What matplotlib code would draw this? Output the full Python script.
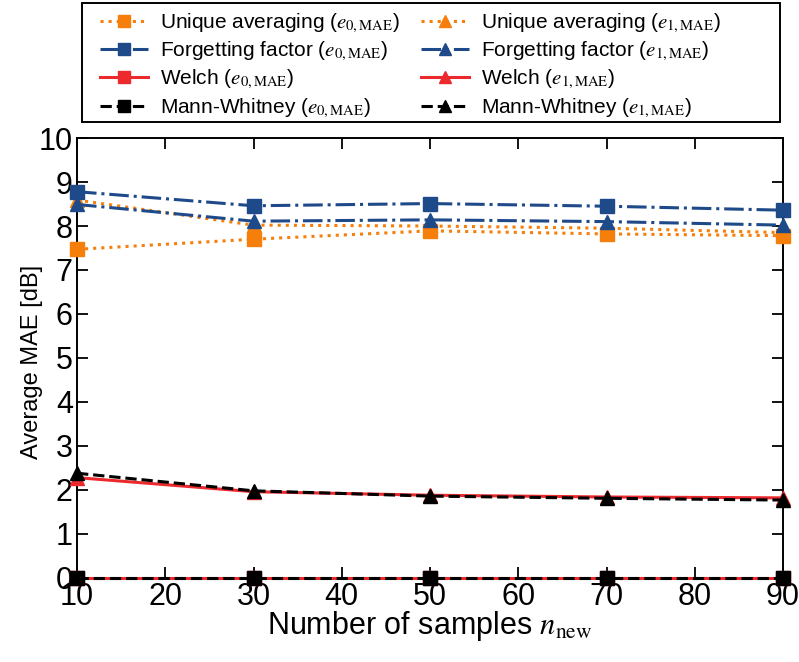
import numpy as np
import matplotlib
matplotlib.use("Agg")
import matplotlib.pyplot as plt
from matplotlib import font_manager
from matplotlib.patches import Rectangle

names = {f.name for f in font_manager.fontManager.ttflist}
narrow = 'Liberation Sans Narrow' if 'Liberation Sans Narrow' in names else 'Liberation Sans'
plt.rcParams['font.family'] = [narrow, 'DejaVu Sans']
plt.rcParams['mathtext.fontset'] = 'stix'

# number of new samples
n_new = [10, 30, 50, 70, 90]

# average MAE [dB]
ua_e0 = [7.47, 7.70, 7.89, 7.82, 7.78]
ua_e1 = [8.59, 8.02, 8.00, 7.95, 7.85]
ff_e0 = [8.78, 8.46, 8.51, 8.45, 8.36]
ff_e1 = [8.49, 8.11, 8.14, 8.10, 8.02]
welch_e0 = [0, 0, 0, 0, 0]
welch_e1 = [2.28, 1.96, 1.88, 1.84, 1.82]
mw_e0 = [0, 0, 0, 0, 0]
mw_e1 = [2.38, 1.98, 1.86, 1.81, 1.77]

orange = '#f57f0a'
blue = '#1f4a8a'
red = '#ec2a2e'
black = '#000000'

e0 = r'($e_{0,\mathrm{MAE}}$)'
e1 = r'($e_{1,\mathrm{MAE}}$)'

fig = plt.figure(figsize=(7.99, 6.62), dpi=100)
ax = fig.add_axes([0.0964, 0.127, 0.8836, 0.6645])

lw = 2.2
ms = 10
kw = dict(lw=lw, ms=ms, clip_on=False, zorder=3)
l_ua0, = ax.plot(n_new, ua_e0, ':', color=orange, marker='s', label='Unique averaging ' + e0, **kw)
l_ua1, = ax.plot(n_new, ua_e1, ':', color=orange, marker='^', label='Unique averaging ' + e1, **kw)
l_ff0, = ax.plot(n_new, ff_e0, '-.', color=blue, marker='s', label='Forgetting factor ' + e0, **kw)
l_ff1, = ax.plot(n_new, ff_e1, '-.', color=blue, marker='^', label='Forgetting factor ' + e1, **kw)
l_w0, = ax.plot(n_new, welch_e0, '-', color=red, marker='s', label='Welch ' + e0, **kw)
l_w1, = ax.plot(n_new, welch_e1, '-', color=red, marker='^', label='Welch ' + e1, **kw)
l_mw0, = ax.plot(n_new, mw_e0, '--', color=black, marker='s', label='Mann-Whitney ' + e0, **kw)
l_mw1, = ax.plot(n_new, mw_e1, '--', color=black, marker='^', label='Mann-Whitney ' + e1, **kw)

ax.set_xlim(10, 90)
ax.set_ylim(0, 10)
ax.set_xticks(np.arange(10, 91, 10))
ax.set_yticks(np.arange(0, 11, 1))
ax.tick_params(direction='in', top=True, right=True, length=8, width=1.3, labelsize=22, pad=3)
for s in ax.spines.values():
    s.set_linewidth(1.4)

ax.set_xlabel(r'Number of samples $n_\mathrm{new}$', fontsize=22, labelpad=-2)
ax.set_ylabel('Average MAE [dB]', fontsize=17)
ax.yaxis.set_label_coords(-0.048, 0.49)

# legend filled row by row: e0 left column, e1 right column
handles = [l_ua0, l_ff0, l_w0, l_mw0, l_ua1, l_ff1, l_w1, l_mw1]
leg = fig.legend(handles, [h.get_label() for h in handles], loc='upper left',
                 bbox_to_anchor=(0.108, 1.003), ncol=2, fontsize=15, frameon=False,
                 handlelength=2.3, handletextpad=0.6, markerscale=0.85,
                 columnspacing=1.0, labelspacing=0.25, borderpad=0.15)
fig.add_artist(Rectangle((0.1026, 0.816), 0.8736, 0.18, transform=fig.transFigure,
                         fill=False, edgecolor='black', lw=1.4))

fig.savefig('out.png', dpi=100)
